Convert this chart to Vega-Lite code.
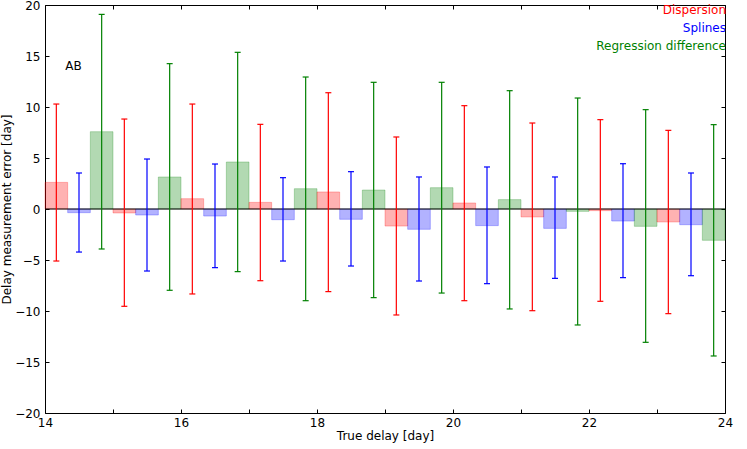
{
  "$schema": "https://vega.github.io/schema/vega-lite/v6.json",
  "width": 680,
  "height": 408,
  "autosize": {"type": "none"},
  "padding": {"left": 45, "top": 5, "right": 22, "bottom": 36},
  "data": {
    "values": [
      {"delay": 14, "method": "Dispersion", "value": 2.61, "lo": -5.10, "hi": 10.29},
      {"delay": 14, "method": "Splines", "value": -0.36, "lo": -4.22, "hi": 3.53},
      {"delay": 14, "method": "Regression difference", "value": 7.58, "lo": -3.92, "hi": 19.08},
      {"delay": 15, "method": "Dispersion", "value": -0.39, "lo": -9.54, "hi": 8.82},
      {"delay": 15, "method": "Splines", "value": -0.59, "lo": -6.08, "hi": 4.90},
      {"delay": 15, "method": "Regression difference", "value": 3.14, "lo": -7.97, "hi": 14.25},
      {"delay": 16, "method": "Dispersion", "value": 1.01, "lo": -8.33, "hi": 10.29},
      {"delay": 16, "method": "Splines", "value": -0.69, "lo": -5.75, "hi": 4.41},
      {"delay": 16, "method": "Regression difference", "value": 4.61, "lo": -6.14, "hi": 15.36},
      {"delay": 17, "method": "Dispersion", "value": 0.65, "lo": -7.03, "hi": 8.30},
      {"delay": 17, "method": "Splines", "value": -1.05, "lo": -5.10, "hi": 3.07},
      {"delay": 17, "method": "Regression difference", "value": 1.99, "lo": -8.99, "hi": 12.94},
      {"delay": 18, "method": "Dispersion", "value": 1.67, "lo": -8.10, "hi": 11.40},
      {"delay": 18, "method": "Splines", "value": -1.01, "lo": -5.59, "hi": 3.66},
      {"delay": 18, "method": "Regression difference", "value": 1.86, "lo": -8.69, "hi": 12.42},
      {"delay": 19, "method": "Dispersion", "value": -1.67, "lo": -10.39, "hi": 7.06},
      {"delay": 19, "method": "Splines", "value": -1.99, "lo": -7.06, "hi": 3.14},
      {"delay": 19, "method": "Regression difference", "value": 2.09, "lo": -8.24, "hi": 12.42},
      {"delay": 20, "method": "Dispersion", "value": 0.59, "lo": -8.99, "hi": 10.13},
      {"delay": 20, "method": "Splines", "value": -1.63, "lo": -7.32, "hi": 4.12},
      {"delay": 20, "method": "Regression difference", "value": 0.92, "lo": -9.80, "hi": 11.60},
      {"delay": 21, "method": "Dispersion", "value": -0.78, "lo": -9.97, "hi": 8.43},
      {"delay": 21, "method": "Splines", "value": -1.90, "lo": -6.80, "hi": 3.14},
      {"delay": 21, "method": "Regression difference", "value": -0.23, "lo": -11.37, "hi": 10.88},
      {"delay": 22, "method": "Dispersion", "value": -0.16, "lo": -9.05, "hi": 8.76},
      {"delay": 22, "method": "Splines", "value": -1.18, "lo": -6.73, "hi": 4.44},
      {"delay": 22, "method": "Regression difference", "value": -1.70, "lo": -13.07, "hi": 9.74},
      {"delay": 23, "method": "Dispersion", "value": -1.27, "lo": -10.26, "hi": 7.71},
      {"delay": 23, "method": "Splines", "value": -1.54, "lo": -6.54, "hi": 3.53},
      {"delay": 23, "method": "Regression difference", "value": -3.07, "lo": -14.41, "hi": 8.27}
    ]
  },
  "transform": [
    {"calculate": "indexof(['Dispersion', 'Splines', 'Regression difference'], datum.method)", "as": "idx"},
    {"calculate": "datum.delay + datum.idx / 3", "as": "x0"},
    {"calculate": "datum.x0 + 1 / 3", "as": "x1"},
    {"calculate": "datum.x0 + 1 / 6", "as": "xc"}
  ],
  "layer": [
    {
      "mark": {"type": "rect", "fillOpacity": 0.3, "strokeOpacity": 0.25, "strokeWidth": 1},
      "encoding": {
        "x": {
          "field": "x0", "type": "quantitative",
          "scale": {"domain": [14, 24], "nice": false, "zero": false},
          "axis": {
            "orient": "bottom", "values": [14, 15, 16, 17, 18, 19, 20, 21, 22, 23, 24],
            "labelExpr": "datum.value % 2 === 0 ? datum.label : ''",
            "title": "True delay [day]", "labelPadding": 8, "titlePadding": 2
          }
        },
        "x2": {"field": "x1"},
        "y": {
          "field": "value", "type": "quantitative",
          "scale": {"domain": [-20, 20], "nice": false},
          "axis": {
            "orient": "left", "values": [-20, -15, -10, -5, 0, 5, 10, 15, 20],
            "title": "Delay measurement error [day]", "labelPadding": 9, "titlePadding": 1
          }
        },
        "y2": {"datum": 0},
        "color": {
          "field": "method", "type": "nominal",
          "scale": {"domain": ["Dispersion", "Splines", "Regression difference"], "range": ["#ff0000", "#0000ff", "#008000"]},
          "legend": {
            "title": null, "orient": "top-right", "offset": -1, "padding": 0,
            "symbolSize": 0, "symbolOpacity": 0, "symbolStrokeWidth": 0,
            "labelAlign": "right", "labelOffset": 0, "labelFontSize": 12, "rowPadding": 6,
            "labelLimit": 300,
            "encode": {"labels": {"update": {"fill": {"scale": "color", "field": "value"}}}}
          }
        },
        "stroke": {
          "field": "method", "type": "nominal", "legend": null,
          "scale": {"domain": ["Dispersion", "Splines", "Regression difference"], "range": ["#ff0000", "#0000ff", "#008000"]}
        }
      }
    },
    {
      "data": {"values": [{}]},
      "mark": {"type": "rule", "color": "black", "strokeWidth": 1},
      "encoding": {"y": {"datum": 0, "axis": null}}
    },
    {
      "mark": {"type": "rule", "strokeWidth": 1.2},
      "encoding": {
        "x": {"field": "xc", "type": "quantitative", "axis": null},
        "y": {"field": "lo", "type": "quantitative", "axis": null},
        "y2": {"field": "hi"},
        "color": {"field": "method", "type": "nominal"}
      }
    },
    {
      "mark": {"type": "tick", "orient": "horizontal", "size": 6, "thickness": 1.2, "opacity": 1},
      "encoding": {
        "x": {"field": "xc", "type": "quantitative", "axis": null},
        "y": {"field": "lo", "type": "quantitative", "axis": null},
        "color": {"field": "method", "type": "nominal"}
      }
    },
    {
      "mark": {"type": "tick", "orient": "horizontal", "size": 6, "thickness": 1.2, "opacity": 1},
      "encoding": {
        "x": {"field": "xc", "type": "quantitative", "axis": null},
        "y": {"field": "hi", "type": "quantitative", "axis": null},
        "color": {"field": "method", "type": "nominal"}
      }
    },
    {
      "data": {"values": [{}]},
      "mark": {"type": "text", "text": "AB", "fontSize": 12, "color": "black"},
      "encoding": {
        "x": {"datum": 14.42, "type": "quantitative", "axis": null},
        "y": {"datum": 14, "type": "quantitative", "axis": null}
      }
    },
    {
      "mark": {"type": "point", "opacity": 0},
      "encoding": {
        "x": {
          "field": "x0", "type": "quantitative",
          "axis": {"orient": "top", "values": [14, 15, 16, 17, 18, 19, 20, 21, 22, 23, 24], "labels": false, "title": null}
        },
        "y": {
          "field": "value", "type": "quantitative",
          "axis": {"orient": "right", "values": [-20, -15, -10, -5, 0, 5, 10, 15, 20], "labels": false, "title": null}
        }
      }
    }
  ],
  "resolve": {"axis": {"x": "independent", "y": "independent"}},
  "config": {
    "font": "DejaVu Sans",
    "view": {"stroke": "black", "strokeWidth": 1},
    "axis": {
      "grid": false, "domain": false, "tickSize": -4, "tickColor": "black", "tickWidth": 1,
      "labelColor": "black", "labelFontSize": 12, "labelFlush": false, "labelOverlap": false,
      "titleColor": "black", "titleFontSize": 12, "titleFontWeight": "normal"
    }
  }
}
